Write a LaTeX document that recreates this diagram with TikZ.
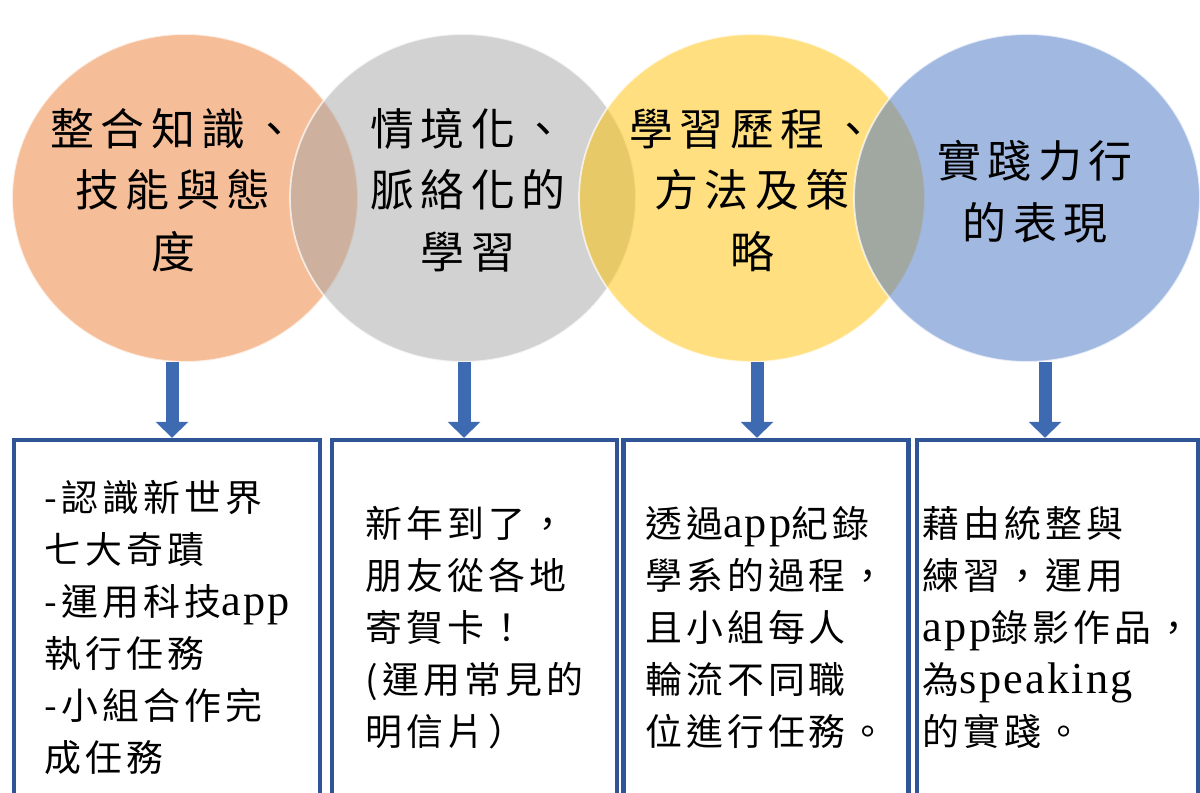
\documentclass[tikz,border=0pt]{standalone}
\usepackage{fontspec}
\setmainfont{Liberation Serif}
\newfontfamily\cjkbig[LetterSpace=15]{Noto Sans CJK TC}
\newfontfamily\cjk[LetterSpace=11]{Noto Sans CJK TC}
\newfontfamily\en[Scale=1.2, LetterSpace=5]{Liberation Serif}
\usepackage{tikz}
\usetikzlibrary{arrows.meta,shapes.geometric}

\definecolor{peach}{RGB}{237,125,49}
\definecolor{silver}{RGB}{165,165,165}
\definecolor{gold}{RGB}{255,192,0}
\definecolor{sky}{RGB}{68,114,196}
\definecolor{boxblue}{RGB}{47,85,151}
\definecolor{arrblue}{RGB}{62,106,178}

\tikzset{
  blob/.style={ellipse, fill=#1, fill opacity=0.5, draw=white, draw opacity=0.7,
    line width=1pt, minimum width=6.92cm, minimum height=6.56cm, inner sep=0pt},
  ctext/.style={font=\cjkbig\fontsize{25pt}{35pt}\selectfont, align=center},
  task/.style={rectangle, draw=boxblue, line width=0.09cm, minimum height=7.5cm,
    font=\cjk\fontsize{21pt}{29.6pt}\selectfont, align=left, inner sep=0pt},
  arr/.style={-{Triangle[width=0.64cm,length=0.32cm]}, line width=0.26cm, draw=arrblue}
}

\begin{document}
\begin{tikzpicture}[x=0.02cm, y=-0.02cm]
            \useasboundingbox (0,0) rectangle (1200,793);
            % circles
            \node[blob=peach] (c1) at (185,198) {};
            \node[blob=silver] (c2) at (463,198) {};
            \node[blob=gold] (c3) at (752,198) {};
            \node[blob=sky] (c4) at (1027,198) {};
            \node[ctext] (t1) at ([shift={(-0.24cm,0.16cm)}]c1) {整合知識、\\技能與態\\度};
            \node[ctext] (t2) at ([shift={(0.1cm,0.16cm)}]c2) {情境化、\\脈絡化的\\學習};
            \node[ctext] (t3) at ([shift={(0cm,0.16cm)}]c3) {學習歷程、\\方法及策\\略};
            \node[ctext] (t4) at ([shift={(0.16cm,0.12cm)}]c4) {實踐力行\\的表現};
            % boxes
            \node[task, minimum width=6.12cm] (b1) at (167,627.5)
              {-認識新世界\\七大奇蹟\\-運用科技{\en app}\\執行任務\\-小組合作完\\成任務};
            \node[task, minimum width=5.7cm] (b2) at (474.5,627.5)
              {新年到了，\\朋友從各地\\寄賀卡！\\(運用常見的\\明信片）};
            \node[task, minimum width=5.7cm] (b3) at (766,627.5)
              {透過{\en app}紀錄\\學系的過程，\\且小組每人\\輪流不同職\\位進行任務。};
            \node[task, minimum width=5.62cm] (b4) at (1057.5,627.5)
              {藉由統整與\\練習，運用\\{\en app}錄影作品，\\為{\en speaking}\\的實踐。};
            % arrows
            \coordinate (a1) at (172,362);
            \coordinate (a2) at (464,362);
            \coordinate (a3) at (757,362);
            \coordinate (a4) at (1045,362);
            \draw[arr] (a1) -- (a1 |- b1.north);
            \draw[arr] (a2) -- (a2 |- b2.north);
            \draw[arr] (a3) -- (a3 |- b3.north);
            \draw[arr] (a4) -- (a4 |- b4.north);
\end{tikzpicture}
\end{document}
